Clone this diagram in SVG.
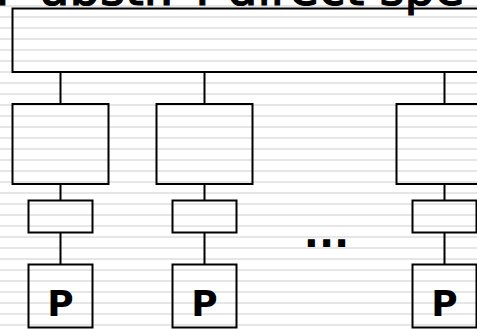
<svg xmlns="http://www.w3.org/2000/svg" width="477" height="329" viewBox="0 0 477 329">
<defs>
<pattern id="lines" patternUnits="userSpaceOnUse" x="0" y="0" width="477" height="11">
<rect x="0" y="5" width="477" height="2" fill="#e6e6e6"/>
</pattern>
</defs>
<style>
.box{fill:none;stroke:#000;stroke-width:2}
.conn line{stroke:#000;stroke-width:2}
.title{font-family:"DejaVu Sans",sans-serif;font-size:48px;fill:#000;stroke:#000;stroke-width:1.2}
.lbl{font-family:"DejaVu Sans",sans-serif;font-size:36px;font-weight:bold;fill:#000;text-anchor:middle}
.dots{font-family:"DejaVu Sans",sans-serif;font-size:40px;font-weight:bold;fill:#000}
</style>
<rect x="0" y="0" width="477" height="329" fill="#fff"/>
<rect x="0" y="0" width="477" height="329" fill="url(#lines)"/>
<text class="title" y="5"><tspan x="-4.7">F</tspan><tspan x="40">abstr.</tspan><tspan x="195.3">F</tspan><tspan x="227">direct spe</tspan></text>
<g id="connectors" class="conn">
<line x1="60.5" y1="72" x2="60.5" y2="104"/>
<line x1="204.5" y1="72" x2="204.5" y2="104"/>
<line x1="444.5" y1="72" x2="444.5" y2="104"/>
<line x1="60.5" y1="184" x2="60.5" y2="200"/>
<line x1="204.5" y1="184" x2="204.5" y2="200"/>
<line x1="444.5" y1="184" x2="444.5" y2="200"/>
<line x1="60.5" y1="232" x2="60.5" y2="264"/>
<line x1="204.5" y1="232" x2="204.5" y2="264"/>
<line x1="444.5" y1="232" x2="444.5" y2="264"/>
</g>
<g id="top"><rect class="box" x="12.5" y="8.5" width="480" height="63.5"/></g>
<g id="mid1"><rect class="box" x="12.5" y="104" width="96" height="80"/></g>
<g id="mid2"><rect class="box" x="156.5" y="104" width="96" height="80"/></g>
<g id="mid3"><rect class="box" x="396.5" y="104" width="96" height="80"/></g>
<g id="small1"><rect class="box" x="28.5" y="200.5" width="64" height="32"/></g>
<g id="small2"><rect class="box" x="172.5" y="200.5" width="64" height="32"/></g>
<g id="small3"><rect class="box" x="412.5" y="200.5" width="64" height="32"/></g>
<g id="p1"><rect class="box" x="28.5" y="264.5" width="64" height="63"/><text class="lbl" x="60.5" y="316">P</text></g>
<g id="p2"><rect class="box" x="172.5" y="264.5" width="64" height="63"/><text class="lbl" x="204.5" y="316">P</text></g>
<g id="p3"><rect class="box" x="412.5" y="264.5" width="64" height="63"/><text class="lbl" x="444.5" y="316">P</text></g>
<g id="ellipsis"><text class="dots" x="303.7" y="247">...</text></g>
</svg>
